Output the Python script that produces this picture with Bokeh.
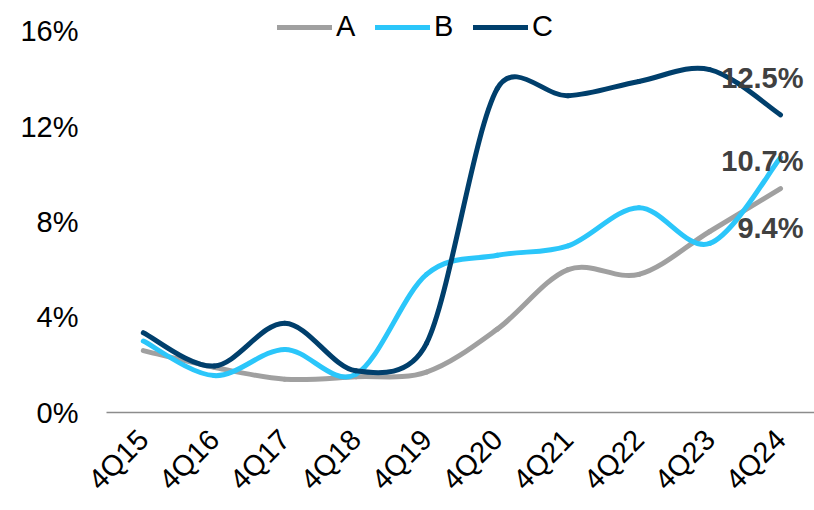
import numpy as np
from bokeh.plotting import figure
from bokeh.models import Range1d, FixedTicker, Legend, LegendItem, Label
from bokeh.embed import file_html
from bokeh.resources import INLINE

categories = ["4Q15", "4Q16", "4Q17", "4Q18", "4Q19", "4Q20", "4Q21", "4Q22", "4Q23", "4Q24"]
series_a = [2.6, 1.9, 1.4, 1.5, 1.7, 3.5, 6.0, 5.8, 7.6, 9.4]
series_b = [3.0, 1.55, 2.65, 1.6, 5.8, 6.6, 7.0, 8.6, 7.1, 10.7]
series_c = [3.35, 1.95, 3.75, 1.75, 2.9, 13.6, 13.3, 13.9, 14.4, 12.5]
y_ticks = [0, 4, 8, 12, 16]
y_labels = ["0%", "4%", "8%", "12%", "16%"]
end_labels = ["9.4%", "10.7%", "12.5%"]

names = ["A", "B", "C"]
colors = ["#A0A0A0", "#2BC6FA", "#003F6C"]

W, H = 814, 510
LEFT, TOP, BOTTOM = 106, 10, 97
X0, X1 = -0.52, 9.48
Y0, Y1 = 0, 16.88

p = figure(width=W, height=H, output_backend="svg", toolbar_location=None,
           x_range=Range1d(X0, X1), y_range=Range1d(Y0, Y1),
           min_border_left=LEFT, min_border_right=0, min_border_top=TOP, min_border_bottom=BOTTOM)
p.outline_line_color = None
p.xgrid.visible = False
p.ygrid.visible = False
p.background_fill_color = "white"
p.border_fill_color = "white"

FONT = "Liberation Sans"

# y axis
p.yaxis.ticker = FixedTicker(ticks=y_ticks)
p.yaxis.major_label_overrides = {t: l for t, l in zip(y_ticks, y_labels)}
p.yaxis.axis_line_color = None
p.yaxis.major_tick_line_color = None
p.yaxis.minor_tick_line_color = None
p.yaxis.major_tick_out = 0
p.yaxis.major_label_standoff = 28
p.yaxis.major_label_text_font = FONT
p.yaxis.major_label_text_font_size = "29px"
p.yaxis.major_label_text_color = "black"

# x axis
xs = list(range(len(categories)))
p.xaxis.ticker = FixedTicker(ticks=xs)
p.xaxis.major_label_overrides = {i: c for i, c in zip(xs, categories)}
p.xaxis.major_label_orientation = np.pi / 4
p.xaxis.major_label_standoff = 22
p.xaxis.major_label_text_font = FONT
p.xaxis.major_label_text_font_size = "29px"
p.xaxis.major_label_text_color = "black"
p.xaxis.axis_line_color = "#8C8C8C"
p.xaxis.axis_line_width = 1.5
p.xaxis.major_tick_line_color = None
p.xaxis.minor_tick_line_color = None
p.xaxis.major_tick_out = 0
p.xaxis.major_tick_in = 0

# screen scale (px per data unit) for Excel-like smoothing
frame_w = W - LEFT
frame_h = H - TOP - BOTTOM
SX = frame_w / (X1 - X0)
SY = frame_h / (Y1 - Y0)


def smooth_segments(x, y):
    n = len(x)
    P = [(xi * SX, yi * SY) for xi, yi in zip(x, y)]
    d = lambda a, b: float(np.hypot(a[0] - b[0], a[1] - b[1]))
    out = dict(x0=[], y0=[], x1=[], y1=[], cx0=[], cy0=[], cx1=[], cy1=[])
    f = 1.0 / 6.0
    for i in range(n - 1):
        p0 = P[max(i - 1, 0)]
        p1 = P[i]
        p2 = P[i + 1]
        p3 = P[min(i + 2, n - 1)]
        d02, d12, d13 = d(p0, p2), d(p1, p2), d(p1, p3)
        f1 = f if d02 / 6 < d12 / 2 else (d12 / 2 / d02 if d02 > 0 else f)
        f2 = f if d13 / 6 < d12 / 2 else (d12 / 2 / d13 if d13 > 0 else f)
        c1 = (p1[0] + (p2[0] - p0[0]) * f1, p1[1] + (p2[1] - p0[1]) * f1)
        c2 = (p2[0] - (p3[0] - p1[0]) * f2, p2[1] - (p3[1] - p1[1]) * f2)
        out["x0"].append(x[i]); out["y0"].append(y[i])
        out["x1"].append(x[i + 1]); out["y1"].append(y[i + 1])
        out["cx0"].append(c1[0] / SX); out["cy0"].append(c1[1] / SY)
        out["cx1"].append(c2[0] / SX); out["cy1"].append(c2[1] / SY)
    return out


items = []
for name, vals, col in zip(names, [series_a, series_b, series_c], colors):
    seg = smooth_segments(xs, vals)
    r = p.bezier(line_color=col, line_width=5, line_cap="round", **seg)
    items.append(LegendItem(label=name, renderers=[r]))

legend = Legend(items=items, orientation="horizontal", location=(171, 369),
                label_text_font=FONT, label_text_font_size="29px", label_text_color="black",
                glyph_width=55, glyph_height=30, label_standoff=4, spacing=19,
                padding=0, margin=0, background_fill_alpha=0, border_line_color=None,
                label_height=30)
p.add_layout(legend)

# end-of-line value labels
last = len(xs) - 1
offsets = [-39, -3, 37]
for vals, txt, off in zip([series_a, series_b, series_c], end_labels, offsets):
    p.add_layout(Label(x=xs[last], y=vals[last], text=txt, x_offset=23, y_offset=off,
                       text_align="right", text_baseline="middle",
                       text_font=FONT, text_font_size="29px", text_font_style="bold",
                       text_color="#404040"))

open("out.html", "w").write(file_html(p, INLINE))
